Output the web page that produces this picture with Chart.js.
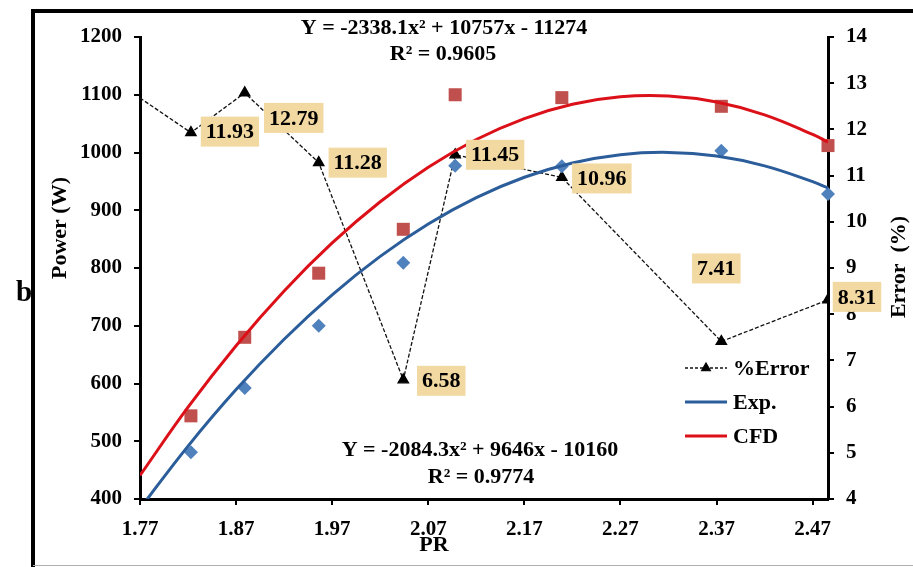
<!DOCTYPE html>
<html>
<head>
<meta charset="utf-8">
<script src="https://cdn.jsdelivr.net/npm/chart.js@4.4.1/dist/chart.umd.min.js"></script>
<style>
  html, body { margin: 0; padding: 0; background: #fff; }
  #wrap { position: relative; width: 913px; height: 567px; }
</style>
</head>
<body>
<div id="wrap"><canvas id="powerChart"></canvas></div>
<script>
// measured points (PR is shared by the three series)
const prValues = [1.823, 1.879, 1.956, 2.044, 2.098, 2.209, 2.375, 2.486];
const expPower = [481, 592, 700, 809, 977, 976, 1003, 928];
const cfdPower = [544, 680, 791, 867, 1100, 1095, 1080, 1012];

// %Error line enters from the left edge (first point has no marker / label)
const errorPR = [1.77, 1.823, 1.879, 1.956, 2.044, 2.098, 2.209, 2.375, 2.486];
const errorPct = [12.68, 11.93, 12.79, 11.28, 6.58, 11.45, 10.96, 7.41, 8.31];

// trendlines
const fitPR = [1.77, 1.82, 1.87, 1.92, 1.97, 2.02, 2.07, 2.12, 2.17, 2.22, 2.27, 2.32, 2.37, 2.42, 2.47, 2.486];
const fitExp = [383.5, 491.6, 589.4, 676.7, 753.6, 820.1, 876.2, 921.8, 957.1, 981.9, 996.3, 1000.2, 993.8, 976.9, 949.6, 938.6];
const fitCfd = [440.8, 559.0, 665.5, 760.3, 843.4, 914.8, 974.5, 1022.5, 1058.8, 1083.5, 1096.4, 1097.7, 1087.3, 1065.2, 1031.3, 1018.1];

const xTicks = [1.77, 1.87, 1.97, 2.07, 2.17, 2.27, 2.37, 2.47];
const eqCfd = ["Y = -2338.1x\u00b2 + 10757x - 11274", "R\u00b2 = 0.9605"];
const eqExp = ["Y = -2084.3x\u00b2 + 9646x - 10160", "R\u00b2 = 0.9774"];

const serif = "'Liberation Serif', 'Times New Roman', serif";
const pairs = (xs, ys) => xs.map((x, i) => ({ x: x, y: ys[i] }));

// where each %Error label box sits relative to its point
const labelOffsets = [[39, -1], [49, 25], [39, 0], [38, 1], [40, 0], [40, 1], [-5, -73], [29, -3]];

const decorations = {
    id: "decorations",
    beforeDraw(chart) {
        const ctx = chart.ctx;
        ctx.save();
        ctx.fillStyle = "#fff";
        ctx.fillRect(0, 0, chart.width, chart.height);
        // outer frame
        ctx.strokeStyle = "#000";
        ctx.lineWidth = 4;
        ctx.beginPath();
        ctx.moveTo(33, 567);
        ctx.lineTo(33, 11);
        ctx.lineTo(913, 11);
        ctx.stroke();
        ctx.strokeStyle = "#b0b0b0";
        ctx.lineWidth = 1;
        ctx.beginPath();
        ctx.moveTo(33, 565.5);
        ctx.lineTo(913, 565.5);
        ctx.stroke();
        ctx.restore();
    },
    afterDatasetsDraw(chart) {
        const ctx = chart.ctx;
        const meta = chart.getDatasetMeta(4);
        ctx.save();
        ctx.font = "bold 22px " + serif;
        ctx.textAlign = "center";
        ctx.textBaseline = "middle";
        meta.data.forEach(function (pt, i) {
            if (i === 0) return;
            const off = labelOffsets[i - 1];
            const txt = errorPct[i].toFixed(2);
            const w = ctx.measureText(txt).width + 10;
            const h = 30;
            const cx = pt.x + off[0];
            const cy = pt.y + off[1];
            ctx.fillStyle = "#f2d9a2";
            ctx.fillRect(cx - w / 2, cy - h / 2, w, h);
            ctx.fillStyle = "#000";
            ctx.fillText(txt, cx, cy + 1);
        });
        ctx.restore();
    },
    afterDraw(chart) {
        const ctx = chart.ctx;
        ctx.save();
        ctx.fillStyle = "#000";
        ctx.textAlign = "center";
        ctx.textBaseline = "middle";
        ctx.font = "bold 22px " + serif;

        // equations
        ctx.fillText(eqCfd[0], 444, 28);
        ctx.fillText(eqCfd[1], 443, 54);
        ctx.fillText(eqExp[0], 480, 450);
        ctx.fillText(eqExp[1], 481, 477);

        // axis titles
        ctx.fillText("PR", 434, 545);
        ctx.save();
        ctx.translate(60, 228);
        ctx.rotate(-Math.PI / 2);
        ctx.fillText("Power (W)", 0, 0);
        ctx.restore();
        ctx.save();
        ctx.translate(899, 267);
        ctx.rotate(-Math.PI / 2);
        ctx.fillText("Error  (%)", 0, 0);
        ctx.restore();

        ctx.font = "bold 29px " + serif;
        ctx.fillText("b", 24, 294);

        // legend
        const rows = [
            { ds: chart.data.datasets[4], y: 368, dash: [3, 2], marker: true },
            { ds: chart.data.datasets[0], y: 402, dash: [], marker: false },
            { ds: chart.data.datasets[1], y: 436, dash: [], marker: false }
        ];
        ctx.font = "bold 22px " + serif;
        ctx.textAlign = "left";
        rows.forEach(function (r) {
            ctx.strokeStyle = r.ds.borderColor;
            ctx.lineWidth = r.marker ? 1.3 : 3;
            ctx.setLineDash(r.dash);
            ctx.beginPath();
            ctx.moveTo(685, r.y);
            ctx.lineTo(727, r.y);
            ctx.stroke();
            ctx.setLineDash([]);
            if (r.marker) {
                Chart.helpers.drawPoint(ctx, { pointStyle: "triangle", radius: 5, borderWidth: 1 }, 706, r.y);
                ctx.fillStyle = "#000";
                ctx.fill();
            }
            ctx.fillStyle = "#000";
            ctx.fillText(r.ds.label, 733, r.y + 1);
        });
        ctx.restore();
    }
};

const tickFont = { family: serif, size: 21, weight: "bold" };

new Chart(document.getElementById("powerChart"), {
    type: "scatter",
    data: {
        datasets: [
            {
                label: "Exp.",
                type: "line",
                data: pairs(fitPR, fitExp),
                borderColor: "#2a5d9a",
                borderWidth: 3,
                pointRadius: 0,
                tension: 0.4,
                yAxisID: "y"
            },
            {
                label: "CFD",
                type: "line",
                data: pairs(fitPR, fitCfd),
                borderColor: "#dc1018",
                borderWidth: 3,
                pointRadius: 0,
                tension: 0.4,
                yAxisID: "y"
            },
            {
                label: "Exp. points",
                data: pairs(prValues, expPower),
                pointStyle: "rectRot",
                pointRadius: 7,
                backgroundColor: "#4f81bd",
                borderColor: "#4f81bd",
                borderWidth: 0,
                clip: false,
                yAxisID: "y"
            },
            {
                label: "CFD points",
                data: pairs(prValues, cfdPower),
                pointStyle: "rect",
                pointRadius: 9.2,
                backgroundColor: "#c0504d",
                borderColor: "#c0504d",
                borderWidth: 0,
                clip: false,
                yAxisID: "y"
            },
            {
                label: "%Error",
                type: "line",
                data: pairs(errorPR, errorPct),
                borderColor: "#111",
                borderWidth: 1.3,
                borderDash: [4, 2],
                tension: 0,
                pointStyle: "triangle",
                pointRadius: function (c) { return c.dataIndex === 0 ? 0 : 6; },
                backgroundColor: "#000",
                pointBorderColor: "#000",
                yAxisID: "y1"
            }
        ]
    },
    options: {
        responsive: true,
        maintainAspectRatio: false,
        animation: false,
        layout: { padding: { top: 37, left: 0, right: 0, bottom: 0 } },
        plugins: {
            legend: { display: false },
            tooltip: { enabled: false }
        },
        scales: {
            x: {
                type: "linear",
                min: 1.77,
                max: 2.486,
                afterBuildTicks: function (scale) {
                    scale.ticks = xTicks.map(function (v) { return { value: v }; });
                },
                afterFit: function (scale) { scale.height = 68; },
                border: { display: true, color: "#000", width: 3 },
                grid: { drawOnChartArea: false, color: "#000", lineWidth: 2, tickLength: 6 },
                ticks: {
                    color: "#000",
                    font: tickFont,
                    padding: 12,
                    maxRotation: 0,
                    callback: function (v) { return Number(v).toFixed(2); }
                }
            },
            y: {
                position: "left",
                min: 400,
                max: 1200,
                afterFit: function (scale) { scale.width = 140; },
                border: { display: true, color: "#000", width: 3 },
                grid: { drawOnChartArea: false, color: "#000", lineWidth: 2, tickLength: 6 },
                ticks: {
                    stepSize: 100, color: "#000", font: tickFont, padding: 12,
                    callback: function (v) { return String(v); }
                }
            },
            y1: {
                position: "right",
                min: 4,
                max: 14,
                afterFit: function (scale) { scale.width = 85; },
                border: { display: true, color: "#000", width: 3 },
                grid: { drawOnChartArea: false, color: "#000", lineWidth: 2, tickLength: 6 },
                ticks: {
                    stepSize: 1, color: "#000", font: tickFont, padding: 12,
                    callback: function (v) { return String(v); }
                }
            }
        }
    },
    plugins: [decorations]
});
</script>
</body>
</html>
